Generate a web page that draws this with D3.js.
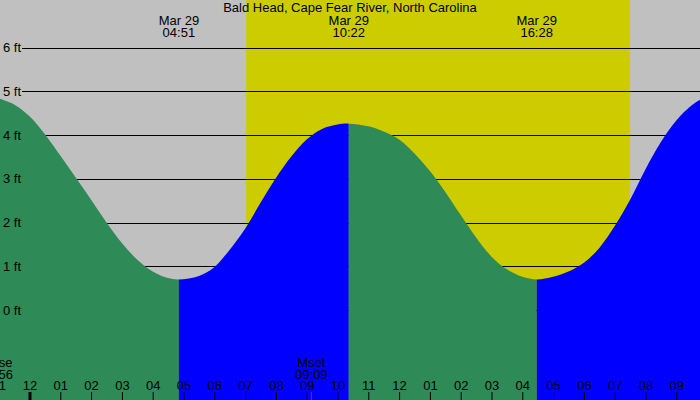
<!DOCTYPE html>
<html><head><meta charset="utf-8">
<script src="https://cdn.jsdelivr.net/npm/d3@7"></script>
<style>
body{margin:0;background:#fff}
svg{display:block}
text{font-family:"Liberation Sans",Arial,sans-serif;font-size:13px;fill:#000}
</style>
</head><body>
<svg id="chart" width="700" height="400"></svg>
<script>
// ---------- data ----------
const title = "Bald Head, Cape Fear River, North Carolina";
const dateLabel = "Mar 29";
// tide heights (ft)
const tideTimes = ["28 23:00","28 23:30","29 00:00","29 00:30","29 01:00","29 01:30","29 02:00","29 02:30","29 03:00","29 03:30","29 04:00","29 04:30","29 04:51",
  "29 05:30","29 06:00","29 06:30","29 07:00","29 07:30","29 08:00","29 08:30","29 09:00","29 09:30","29 10:00","29 10:22",
  "29 11:00","29 11:30","29 12:00","29 12:30","29 13:00","29 13:30","29 14:00","29 14:30","29 15:00","29 15:30","29 16:00","29 16:28",
  "29 17:00","29 17:30","29 18:00","29 18:30","29 19:00","29 19:30","29 20:00","29 20:30","29 21:00","29 21:30","29 22:00"];
const tideFeet = [4.84,4.70,4.43,4.02,3.53,3.03,2.52,2.00,1.53,1.15,0.88,0.73,0.70,
  0.78,0.98,1.38,1.86,2.45,3.02,3.51,3.90,4.14,4.24,4.26,
  4.20,4.08,3.90,3.58,3.18,2.70,2.17,1.66,1.22,0.93,0.76,0.70,
  0.76,0.88,1.08,1.42,1.92,2.52,3.22,3.84,4.33,4.68,4.90];
// extremes (high / low) shown at the top
const extremeTimes = ["29 04:51","29 10:22","29 16:28"];
const extremeLabels = ["04:51","10:22","16:28"];
// daylight
const sunTimes = ["29 07:02","29 19:30"];
// moon events
const moonNames = ["Mrise","Mset"];
const moonTimes = ["28 22:56","29 09:09"];
const moonLabels = ["22:56","09:09"];
// y ticks
const feetTicks = [0,1,2,3,4,5,6];

// ---------- setup ----------
const W = 700, H = 400;
const parse = s => d3.timeParse("%Y-%m-%d %H:%M")("2024-03-" + s);
const midnight = parse("29 00:00");
const pxPerHour = 30.8, x0 = 29.5;
const x = d3.scaleTime()
  .domain([new Date(+midnight - x0 / pxPerHour * 3600e3), new Date(+midnight + (W - x0) / pxPerHour * 3600e3)])
  .range([0, W]);
const y = d3.scaleLinear().domain([0, 6]).range([310, 47.5]);

const svg = d3.select("#chart");
const tide = tideTimes.map((t, i) => ({t: parse(t), v: tideFeet[i]}));

// background
svg.append("rect").attr("width", W).attr("height", H).attr("fill", "#c0c0c0");
svg.append("rect")
  .attr("x", x(parse(sunTimes[0]))).attr("y", 0)
  .attr("width", x(parse(sunTimes[1])) - x(parse(sunTimes[0]))).attr("height", H)
  .attr("fill", "#cccc00");

// grid lines
svg.append("g").selectAll("line").data(feetTicks).join("line")
  .attr("x1", 22).attr("x2", W)
  .attr("y1", d => Math.round(y(d)) + 0.5).attr("y2", d => Math.round(y(d)) + 0.5)
  .attr("stroke", "#000").attr("stroke-width", 1);

// tide area, split at extremes: falling = green, rising = blue
const area = d3.area().x(d => x(d.t)).y0(H).y1(d => y(d.v)).curve(d3.curveCatmullRom.alpha(0.5));
const bounds = [x.domain()[0], ...extremeTimes.map(parse), x.domain()[1]];
const defs = svg.append("defs");
for (let i = 0; i < bounds.length - 1; i++) {
  const a = bounds[i], b = bounds[i + 1];
  const id = "seg" + i;
  defs.append("clipPath").attr("id", id).append("rect")
    .attr("x", x(a)).attr("y", 0).attr("width", x(b) - x(a)).attr("height", H);
  const inside = tide.filter(d => d.t >= a && d.t <= b);
  const rising = inside[inside.length - 1].v > inside[0].v;
  svg.append("path").datum(tide).attr("d", area)
    .attr("clip-path", `url(#${id})`)
    .attr("fill", rising ? "#0000ff" : "#2e8b57");
}

// y labels
svg.append("g").selectAll("text").data(feetTicks).join("text")
  .attr("x", 3).attr("y", d => y(d) + 4.5)
  .text(d => d + " ft");

// title and extreme labels
svg.append("text").attr("x", W / 2).attr("y", 12).attr("text-anchor", "middle").text(title);
const ext = svg.append("g").selectAll("g").data(extremeTimes).join("g")
  .attr("transform", d => `translate(${x(parse(d))},0)`);
ext.append("text").attr("y", 25).attr("text-anchor", "middle").text(dateLabel);
ext.append("text").attr("y", 37).attr("text-anchor", "middle").text((d, i) => extremeLabels[i]);

// hour axis
const hours = d3.timeHour.range(d3.timeHour.floor(x.domain()[0]), x.domain()[1]);
const axis = d3.axisTop(x).tickValues(hours).tickSize(8).tickPadding(2)
  .tickFormat(d3.timeFormat("%I"));
const ag = svg.append("g").attr("transform", `translate(0,${H})`).call(axis);
ag.select(".domain").remove();
ag.selectAll("text").attr("font-size", null).attr("font-family", null).attr("fill", "#000");
ag.selectAll(".tick line").attr("stroke", "#000")
  .attr("stroke-width", d => d.getHours() === 0 ? 3 : 1);

// moon events
const moon = svg.append("g").selectAll("g").data(moonTimes).join("g")
  .attr("transform", d => `translate(${x(parse(d))},0)`);
moon.append("text").attr("y", 367).attr("text-anchor", "middle").text((d, i) => moonNames[i]);
moon.append("text").attr("y", 379).attr("text-anchor", "middle").text((d, i) => moonLabels[i]);
moon.append("line").attr("y1", 392).attr("y2", H).attr("stroke", "#ff0000").attr("stroke-width", 1);
</script>
</body></html>
